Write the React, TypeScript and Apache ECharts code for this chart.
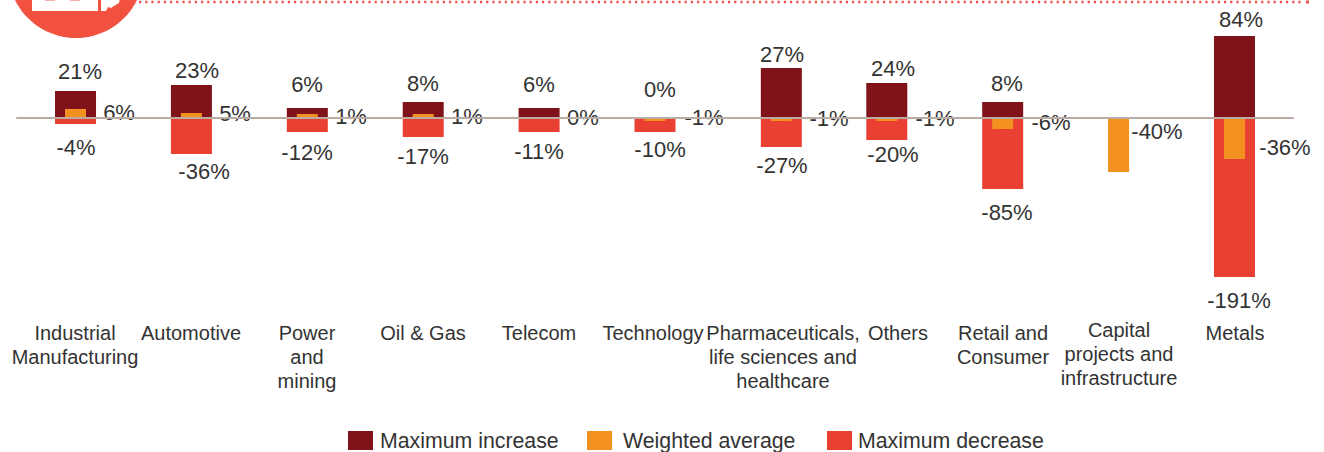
import React, { useEffect, useRef } from "react";
import * as echarts from "echarts";

const categories = [
  "Industrial\nManufacturing", "Automotive", "Power\nand\nmining", "Oil & Gas", "Telecom", "Technology",
  "Pharmaceuticals,\nlife sciences and\nhealthcare", "Others", "Retail and\nConsumer",
  "Capital\nprojects and\ninfrastructure", "Metals",
];
// Where each group sits along the axis (the Pharmaceuticals group is drawn off the regular step)
const groupSlots = [0, 1, 2, 3, 4, 5, 6.09, 7, 8, 9, 10];

// Bar heights as drawn in the picture (the source's bars are not proportional to their printed labels)
const increaseBars = [27, 33, 10, 16, 10, 0, 50, 35, 16, null, 82];
const averageBars = [9, 5, 4, 4, 0, -3, -3, -3, -11, -54, -41];
const decreaseBars = [-6, -36, -14, -19, -14, -14, -29, -22, -71, null, -159];

// Printed labels
const increaseLabels = ["21%", "23%", "6%", "8%", "6%", "0%", "27%", "24%", "8%", "", "84%"];
const averageLabels = ["6%", "5%", "1%", "1%", "0%", "-1%", "-1%", "-1%", "-6%", "-40%", "-36%"];
const decreaseLabels = ["-4%", "-36%", "-12%", "-17%", "-11%", "-10%", "-27%", "-20%", "-85%", "", "-191%"];

// Label centres in the picture
const increaseLabelPos = [[80, 71], [197, 70], [307, 84], [423, 83], [539, 84], [660, 89], [782, 54], [893, 68], [1007, 83], [0, 0], [1241, 19]];
const averageLabelPos = [[119, 112], [235, 113], [351, 116], [467, 116], [583, 117], [704, 117], [829, 118], [935, 118], [1051, 122], [1157, 131], [1285, 147]];
const decreaseLabelPos = [[76, 147], [204, 171], [307, 152], [423, 156], [539, 151], [660, 149], [782, 165], [893, 154], [1007, 212], [0, 0], [1239, 300]];

// Extra shift of category labels that sit off their group's centre
const categoryPadding = [
  [3, 0, 0, 0], [3, 0, 0, 0], [3, 0, 0, 0], [3, 0, 0, 0], [3, 0, 0, 0], [3, 4, 0, 0],
  [3, 0, 0, 24], [3, 0, 0, 22], [3, 0, 0, 0], [0, 0, 0, 0], [3, 0, 0, 0],
];

const DARK = "#7f1319";
const ORANGE = "#f39120";
const RED = "#e94033";
const TEXT = "#333333";
const FONT = "'Liberation Sans', Arial, sans-serif";
const ZERO_Y = 118;
const SLOT0_X = 75.5;
const SLOT_STEP = 115.9;

function barData(values: (number | null)[], labels: string[], pos: number[][]) {
  return values.map((v, i) => {
    const cx = SLOT0_X + SLOT_STEP * groupSlots[i];
    const cy = ZERO_Y - (v ?? 0) / 2;
    return {
      value: [groupSlots[i], v],
      label: {
        show: labels[i] !== "",
        formatter: labels[i],
        position: "inside" as const,
        offset: [pos[i][0] - cx, pos[i][1] - cy],
      },
    };
  });
}

const barLabel = { color: TEXT, fontSize: 22, fontFamily: FONT };

export default function App() {
  const ref = useRef<HTMLDivElement>(null);
  useEffect(() => {
    document.body.style.margin = "0";
    document.body.style.background = "#fff";
    const chart = echarts.init(ref.current!, null, { renderer: "svg" });
    const legendBase = {
      top: 430, itemWidth: 25, itemHeight: 19, padding: 0, icon: "rect",
      textStyle: { color: TEXT, fontSize: 21.3, fontFamily: FONT, padding: [0, 0, 0, 2] },
    };
    chart.setOption({
      animation: false,
      backgroundColor: "#ffffff",
      grid: { left: 17, right: 31, top: 0, height: 300, containLabel: false },
      legend: [
        { ...legendBase, left: 348, data: ["Maximum increase"] },
        { ...legendBase, left: 587, data: ["Weighted average"], textStyle: { ...legendBase.textStyle, padding: [0, 0, 0, 6] } },
        { ...legendBase, left: 827, data: ["Maximum decrease"], textStyle: { ...legendBase.textStyle, padding: [0, 0, 0, 1] } },
      ],
      xAxis: [
        {
          type: "value", min: -0.505, max: 10.505, z: 5,
          axisLine: { show: true, onZero: true, lineStyle: { color: "#b9aca4", width: 2 } },
          axisTick: { show: false }, axisLabel: { show: false }, splitLine: { show: false },
        },
        { type: "value", min: -0.505, max: 10.505, show: false, splitLine: { show: false } },
        {
          type: "category", position: "bottom",
          data: categories.map((c, i) => ({ value: c, textStyle: { padding: categoryPadding[i] } })),
          axisLine: { show: false, onZero: false }, axisTick: { show: false },
          axisLabel: { interval: 0, margin: 18, color: TEXT, fontSize: 20, lineHeight: 24, fontFamily: FONT, align: "center", verticalAlign: "top", hideOverlap: false },
        },
      ],
      yAxis: { type: "value", min: -182, max: 118, show: false, splitLine: { show: false } },
      series: [
        {
          name: "Maximum increase", type: "bar", xAxisIndex: 0, barWidth: 41, barGap: "-100%", z: 2,
          itemStyle: { color: DARK }, label: barLabel,
          data: barData(increaseBars, increaseLabels, increaseLabelPos),
        },
        {
          name: "Maximum decrease", type: "bar", xAxisIndex: 0, barWidth: 41, barGap: "-100%", z: 2,
          itemStyle: { color: RED }, label: barLabel,
          data: barData(decreaseBars, decreaseLabels, decreaseLabelPos),
        },
        {
          name: "Weighted average", type: "bar", xAxisIndex: 1, barWidth: 21, z: 3,
          itemStyle: { color: ORANGE }, label: barLabel,
          data: barData(averageBars, averageLabels, averageLabelPos),
        },
      ],
      graphic: [
        { type: "circle", shape: { cx: 76, cy: -30, r: 68 }, style: { fill: "#f25140" }, silent: true },
        { type: "rect", shape: { x: 32, y: -2, width: 66, height: 13 }, style: { fill: "#ffffff" }, silent: true },
        { type: "rect", shape: { x: 45, y: -2, width: 10, height: 3 }, style: { fill: "#f9b0a8" }, silent: true },
        { type: "rect", shape: { x: 70, y: -2, width: 10, height: 3 }, style: { fill: "#f9b0a8" }, silent: true },
        {
          type: "polygon", silent: true, style: { fill: "#ffffff" },
          shape: { points: [[101, -2], [120, -2], [119, 3], [114, 6], [111, 8], [108, 7], [106, 11], [101, 11]] },
        },
        {
          type: "line", silent: true,
          shape: { x1: 139, y1: 2, x2: 1302, y2: 2 },
          style: { stroke: "#f0524a", lineWidth: 2.4, lineDash: [2.2, 4] },
        },
        { type: "rect", shape: { x: 1306, y: 0.5, width: 3, height: 3 }, style: { fill: "#f0524a" }, silent: true },
      ],
    });
    return () => chart.dispose();
  }, []);
  return <div ref={ref} style={{ width: 1324, height: 452 }} />;
}
